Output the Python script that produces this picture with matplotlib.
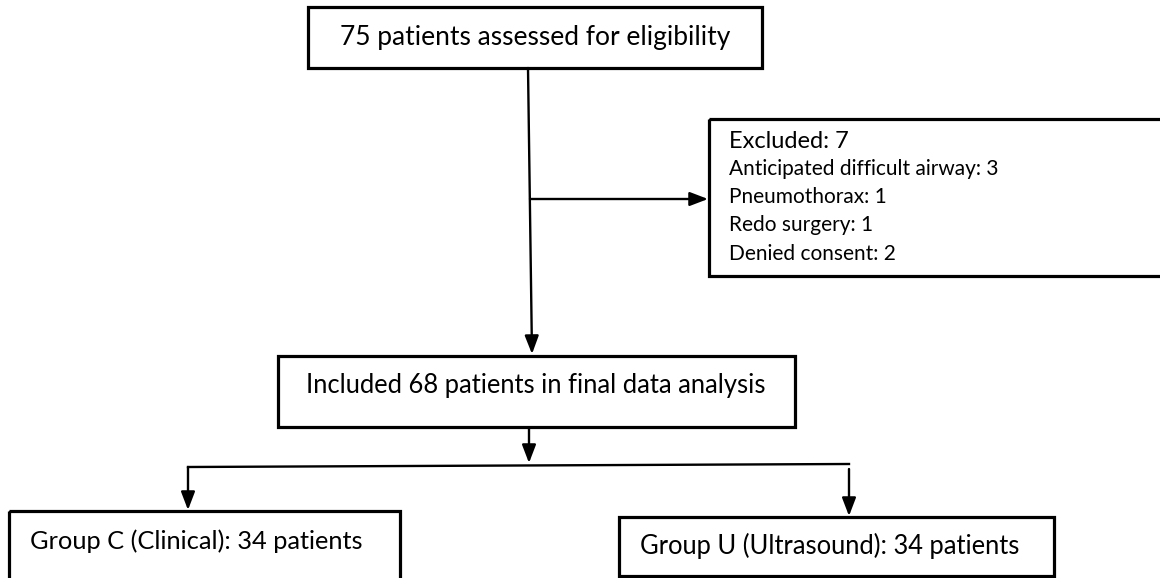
import matplotlib as mpl
mpl.use('Agg')
import matplotlib.pyplot as plt
from matplotlib.patches import Rectangle

################################################################################

# flowchart texts
top_text = "75 patients assessed for eligibility"
excl_title = "Excluded: 7"
excl_items = ["Anticipated difficult airway: 3",
              "Pneumothorax: 1",
              "Redo surgery: 1",
              "Denied consent: 2"]
incl_text = "Included 68 patients in final data analysis"
group_texts = ["Group C (Clinical): 34 patients",
               "Group U (Ultrasound): 34 patients"]

################################################################################

plt.rcParams['font.family'] = ['Lato', 'DejaVu Sans']

fig = plt.figure(figsize=(11.6, 5.78), dpi=100)
ax = fig.add_axes([0, 0, 1, 1])
ax.set_xlim(0, 1160)
ax.set_ylim(578, 0)
ax.axis('off')

box_lw = 2.3
line_lw = 1.7
arrow = dict(arrowstyle='-|>,head_length=1.1,head_width=0.42',
             lw=line_lw, color='black', shrinkA=0, shrinkB=0)


def box(x0, y0, x1, y1):
    ax.add_patch(Rectangle((x0, y0), x1 - x0, y1 - y0, fill=False,
                           ec='black', lw=box_lw, clip_on=True))


def arr(x0, y0, x1, y1):
    ax.annotate("", xy=(x1, y1), xytext=(x0, y0), arrowprops=arrow)


# boxes
box(308, 7, 762, 68)
box(709, 119, 1175, 276)
box(278, 356, 795, 427)
box(9, 511, 400, 600)
box(619, 517, 1054, 576)

# texts
ax.text(535, 38, top_text, fontsize=19, ha='center', va='center')
ax.text(729, 141, excl_title, fontsize=17, ha='left', va='center')
for i, t in enumerate(excl_items):
    ax.text(729, 169 + i * 28.2, t, fontsize=15, ha='left', va='center')
ax.text(536, 385, incl_text, fontsize=18.4, ha='center', va='center')
ax.text(30, 541, group_texts[0], fontsize=18.3, ha='left', va='center')
ax.text(640, 546, group_texts[1], fontsize=18.4, ha='left', va='center')

# connectors
arr(528, 68, 532, 354)
arr(530, 199, 708, 199)
arr(529, 428, 529, 463)
ax.plot([188, 849], [467, 464], color='black', lw=line_lw)
arr(188, 467, 188, 510)
arr(849, 469, 849, 516)

fig.savefig("out.png", dpi=100)
